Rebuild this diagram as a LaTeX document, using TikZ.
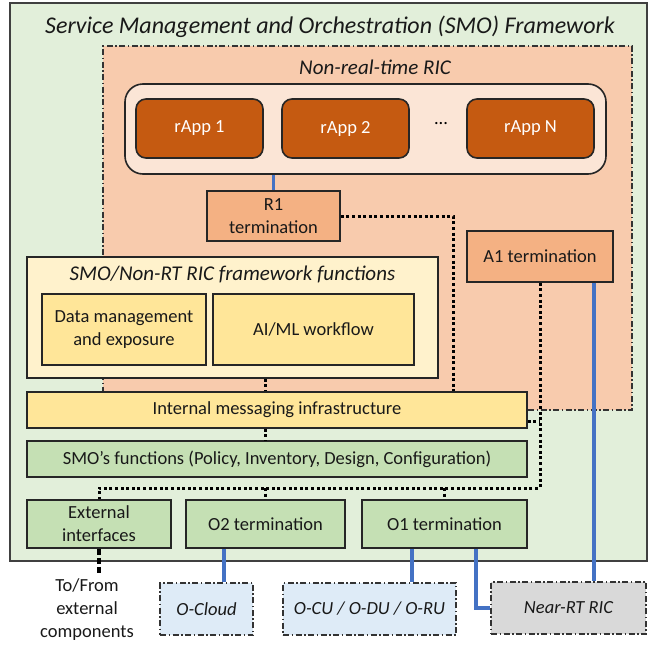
\documentclass[tikz,border=0pt]{standalone}
\usepackage{fontspec}
\setmainfont{Carlito}
\usepackage{tikz}
\usetikzlibrary{positioning,calc}
\usepackage{xcolor}

\definecolor{smogreen}{HTML}{E2EFDA}
\definecolor{ricorange}{HTML}{F8CBAD}
\definecolor{appsbg}{HTML}{FBE5D6}
\definecolor{rappfill}{HTML}{C55A11}
\definecolor{termfill}{HTML}{F4B183}
\definecolor{fwfill}{HTML}{FFF2CC}
\definecolor{yelfill}{HTML}{FFE699}
\definecolor{grnfill}{HTML}{C5E0B4}
\definecolor{extblue}{HTML}{DEEBF7}
\definecolor{extgray}{HTML}{D9D9D9}
\definecolor{linkblue}{HTML}{4472C4}

\newcommand{\bodyfont}{\fontsize{18.5}{23}\selectfont}
\newcommand{\subfont}{\fontsize{21}{25}\selectfont\itshape}

\begin{document}
\begin{tikzpicture}[x=1pt,y=-1pt,
    box/.style={draw=black!85, line width=1.6pt, rectangle, align=center,
      font=\bodyfont, text=black!90, inner sep=0pt},
    rapp/.style={box, fill=rappfill, rounded corners=10pt, text=white,
      minimum width=127pt, minimum height=59pt},
    term/.style={box, fill=termfill},
    yel/.style={box, fill=yelfill},
    grn/.style={box, fill=grnfill},
    ext/.style={draw=black!80, line width=1.5pt,
      dash pattern=on 6pt off 2.5pt on 1.5pt off 2.5pt, align=center,
      font=\bodyfont\itshape, text=black!90, inner sep=0pt,
      minimum height=52pt},
    link/.style={draw=linkblue, line width=3.2pt},
    bus/.style={draw=black, line width=3pt, dash pattern=on 3pt off 2.6pt},
    extlink/.style={draw=black, line width=3.2pt, dash pattern=on 6pt off 3pt}]
  \useasboundingbox (0,0) rectangle (652,645);
  % SMO frame
  \node[draw=black!75, line width=2.2pt, fill=smogreen, minimum width=637pt,
    minimum height=558pt, inner sep=0pt] (smo) at (328.5,282) {};
  \node[font=\fontsize{24}{28}\selectfont\itshape, text=black!90] (smotitle)
    at (330,27) {Service Management and Orchestration (SMO) Framework};
  % Non-real-time RIC
  \node[draw=black!80, line width=1.5pt, dash pattern=on 6pt off 2.5pt on 1.5pt off 2.5pt,
    fill=ricorange, minimum width=529pt, minimum height=364pt, inner sep=0pt]
    (ric) at (367.5,228) {};
  \node[font=\subfont, text=black!90] (rictitle) at (375,67) {Non-real-time RIC};
  \node[draw=black!85, line width=1.6pt, fill=appsbg, rounded corners=18pt,
    minimum width=481pt, minimum height=90pt] (apps) at (365.5,129) {};
  \node[rapp] (rapp1) at (199.5,128.5) {rApp 1};
  \node[rapp] (rapp2) at (345.5,128.5) {rApp 2};
  \node[font=\bodyfont] (rappdots) at (441,124) {...};
  \node[rapp] (rappn) at (530.5,128.5) {rApp N};
  \node[term, minimum width=133pt, minimum height=50pt] (r1) at (273.5,216)
    {R1\\termination};
  \node[term, minimum width=146pt, minimum height=51pt] (a1) at (540,256.5)
    {A1 termination};
  % framework functions
  \node[box, fill=fwfill, minimum width=411pt, minimum height=121pt] (fw)
    at (232.5,317.5) {};
  \node[font=\subfont, text=black!90, below=6pt of fw.north] (fwtitle)
    {SMO/Non-RT RIC framework functions};
  \node[yel, minimum width=164pt, minimum height=71pt] (dm) at (124,329.5)
    {Data management\\and exposure};
  \node[yel, minimum width=201pt, minimum height=71pt] (aiml) at (313.5,329.5)
    {AI/ML workflow};
  \node[yel, minimum width=500pt, minimum height=36pt] (imsg) at (277,410)
    {Internal messaging infrastructure};
  \node[grn, minimum width=500pt, minimum height=36pt] (smof) at (277,459)
    {SMO's functions (Policy, Inventory, Design, Configuration)};
  \node[grn, minimum width=144pt, minimum height=48pt] (ext) at (99,524)
    {External\\interfaces};
  \node[grn, minimum width=159pt, minimum height=48pt] (o2) at (265.5,524)
    {O2 termination};
  \node[grn, minimum width=165pt, minimum height=48pt] (o1) at (444.5,524)
    {O1 termination};
  % outside the SMO
  \node[font=\bodyfont, align=center, text=black!90] (extc) at (87,610)
    {To/From\\external\\components};
  \node[ext, fill=extblue, minimum width=93pt] (ocloud) at (206.5,609) {O-Cloud};
  \node[ext, fill=extblue, minimum width=173pt] (ocu) at (369.5,609)
    {O-CU / O-DU / O-RU};
  \node[ext, fill=extgray, minimum width=155pt] (nearrt) at (568.5,608)
    {Near-RT RIC};
  % link columns
  \coordinate (lnkA) at (224,0);
  \coordinate (lnkB) at (412,0);
  \coordinate (lnkC) at (476,0);
  \coordinate (lnkD) at (594,0);
  \coordinate (lnkE) at (453,0);
  \coordinate (busy) at (0,488);
  % blue interfaces
  \draw[link] (apps.south -| r1.north) -- (r1.north);
  \draw[link] (o2.south -| lnkA) -- (ocloud.north -| lnkA);
  \draw[link] (o1.south -| lnkB) -- (ocu.north -| lnkB);
  \draw[link] (o1.south -| lnkC) |- (nearrt.west);
  \draw[link] (a1.south -| lnkD) -- (nearrt.north -| lnkD);
  % internal dotted connections
  \draw[bus] (r1.east) -| (imsg.north -| lnkE);
  \draw[bus] (fw.south -| o2.north) -- (imsg.north -| o2.north);
  \draw[bus] (imsg.south -| o2.north) -- (smof.north -| o2.north);
  \path ([yshift=-11pt]imsg.east) coordinate (imsgr);
  \draw[bus] (imsgr) -- (imsgr -| a1.south);
  \draw[bus] (a1.south) -- (a1.south |- busy) -- (ext.north |- busy) -- (ext.north);
  \foreach \n in {o2,o1} {
    \draw[bus] (\n.north |- busy) -- (\n.north);
  }
  \draw[extlink] (ext.south) -- (ext.south |- extc.north);
\end{tikzpicture}
\end{document}
